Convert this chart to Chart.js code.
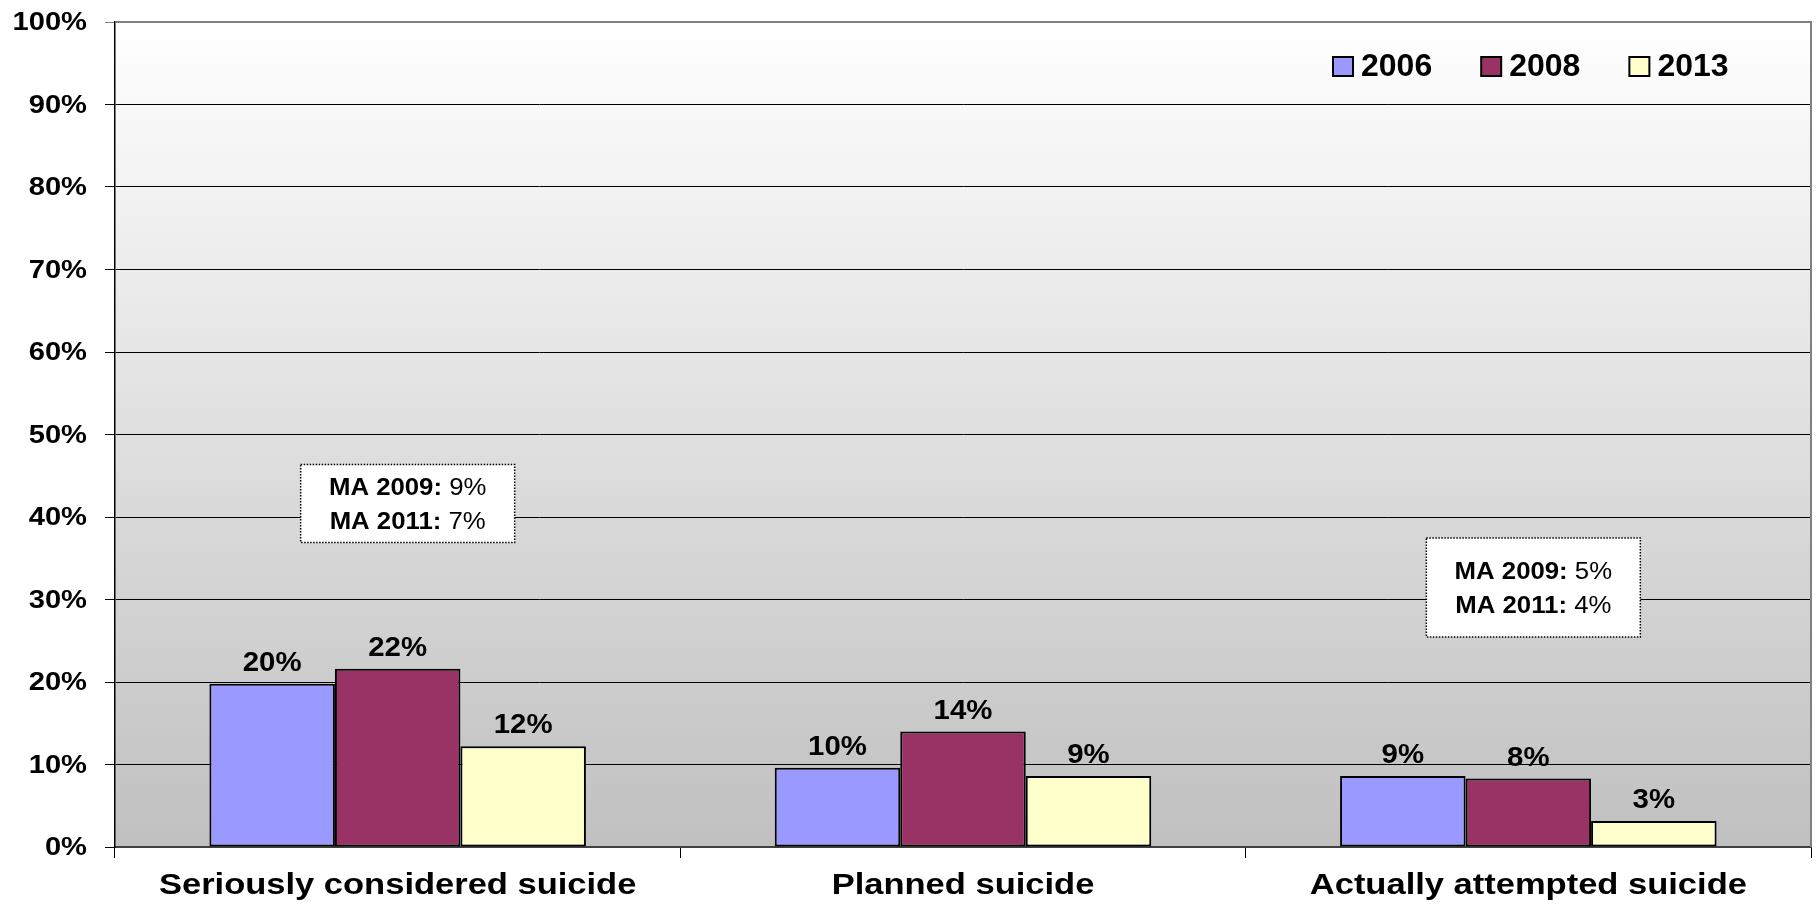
<!DOCTYPE html>
<html><head><meta charset="utf-8">
<script src="https://cdn.jsdelivr.net/npm/chart.js@4"></script>
<style>html,body{margin:0;padding:0;background:#fff}canvas{display:block}</style>
</head><body>
<canvas id="c" width="1816" height="908"></canvas>
<script>
const categories = ['Seriously considered suicide', 'Planned suicide', 'Actually attempted suicide'];
const seriesNames = ['2006', '2008', '2013'];
const values2006 = [19.8, 9.6, 8.6];
const values2008 = [21.6, 14.0, 8.3];
const values2013 = [12.2, 8.6, 3.15];
const seriesColors = ['#9999FF', '#993366', '#FFFFCC'];
const yTicks = [0, 10, 20, 30, 40, 50, 60, 70, 80, 90, 100];
const notes = [
  { cat: 0, dx: 10, top: 46.35, w: 214, h: 78, lines: [['MA 2009:', ' 9%'], ['MA 2011:', ' 7%']] },
  { cat: 2, dx: 5, top: 37.45, w: 214, h: 99, lines: [['MA 2009:', ' 5%'], ['MA 2011:', ' 4%']] }
];

const FONT = '"Liberation Sans", Arial, sans-serif';

function sText(ctx, s, x, y, size, weight, sx, align, baseline) {
  ctx.save();
  ctx.font = weight + ' ' + size + 'px ' + FONT;
  ctx.fillStyle = '#000';
  ctx.textAlign = align || 'left';
  ctx.textBaseline = baseline || 'alphabetic';
  ctx.translate(x, y);
  ctx.scale(sx, 1);
  ctx.fillText(s, 0, 0);
  ctx.restore();
}
function sWidth(ctx, s, size, weight, sx) {
  ctx.save();
  ctx.font = weight + ' ' + size + 'px ' + FONT;
  const w = ctx.measureText(s).width * sx;
  ctx.restore();
  return w;
}

const decor = {
  id: 'decor',
  beforeDraw(chart) {
    const { ctx, chartArea: a } = chart;
    const g = ctx.createLinearGradient(0, a.top, 0, a.bottom);
    g.addColorStop(0, '#ffffff');
    g.addColorStop(1, '#c0c0c0');
    ctx.save();
    ctx.fillStyle = g;
    ctx.fillRect(a.left, a.top, a.right - a.left, a.bottom - a.top);
    ctx.restore();
  },
  afterDraw(chart) {
    const { ctx, chartArea: a } = chart;
    const xs = chart.scales.x, ys = chart.scales.y;
    ctx.save();
    ctx.strokeStyle = '#808080';
    ctx.lineWidth = 2;
    ctx.beginPath();
    ctx.moveTo(a.left, a.top); ctx.lineTo(a.right, a.top); ctx.lineTo(a.right, a.bottom);
    ctx.stroke();
    ctx.restore();
    yTicks.forEach(v => {
      sText(ctx, v + '%', a.left - 28, ys.getPixelForValue(v) + 1, 26, 'bold', 1.12, 'right', 'middle');
    });
    categories.forEach((c, i) => {
      sText(ctx, c, xs.getPixelForValue(i), a.bottom + 47, 30, 'bold', 1.15, 'center', 'alphabetic');
    });
    chart.data.datasets.forEach((ds, di) => {
      const meta = chart.getDatasetMeta(di);
      meta.data.forEach((bar, i) => {
        sText(ctx, Math.round(ds.data[i]) + '%', bar.x, bar.y - 13, 28, 'bold', 1.05, 'center', 'alphabetic');
      });
    });
    let lx = a.right - 478;
    const ly = a.top + 35;
    chart.data.datasets.forEach(ds => {
      ctx.save();
      ctx.fillStyle = ds.backgroundColor;
      ctx.fillRect(lx, ly, 20, 19);
      ctx.strokeStyle = '#000';
      ctx.lineWidth = 2;
      ctx.strokeRect(lx, ly, 20, 19);
      ctx.restore();
      sText(ctx, ds.label, lx + 28, ly + 10, 32, 'bold', 1.0, 'left', 'middle');
      lx += 28 + sWidth(ctx, ds.label, 32, 'bold', 1.0) + 49;
    });
    notes.forEach(n => {
      const cx = xs.getPixelForValue(n.cat) + n.dx;
      const top = ys.getPixelForValue(n.top);
      const left = cx - n.w / 2;
      ctx.save();
      ctx.fillStyle = '#fff';
      ctx.fillRect(left, top, n.w, n.h);
      ctx.strokeStyle = '#000';
      ctx.lineWidth = 1.5;
      ctx.setLineDash([1.5, 1.5]);
      ctx.strokeRect(left, top, n.w, n.h);
      ctx.restore();
      const mid = top + n.h / 2 + 2.5;
      n.lines.forEach((ln, k) => {
        const y = mid + (k - 0.5) * 34;
        const wb = sWidth(ctx, ln[0], 23, 'bold', 1.12);
        const wr = sWidth(ctx, ln[1], 23, 'normal', 1.12);
        const x0 = cx - (wb + wr) / 2;
        sText(ctx, ln[0], x0, y, 23, 'bold', 1.12, 'left', 'middle');
        sText(ctx, ln[1], x0 + wb, y, 23, 'normal', 1.12, 'left', 'middle');
      });
    });
  }
};

const seriesValues = [values2006, values2008, values2013];

new Chart(document.getElementById('c'), {
  type: 'bar',
  data: {
    labels: categories,
    datasets: seriesNames.map((n, i) => ({
      label: n,
      data: seriesValues[i],
      backgroundColor: seriesColors[i],
      borderColor: '#000',
      borderWidth: 2,
      borderSkipped: false,
      categoryPercentage: 0.666,
      barPercentage: 1.0
    }))
  },
  options: {
    responsive: false,
    animation: false,
    layout: { padding: { left: 0, top: 22, right: 5, bottom: 0 } },
    plugins: { legend: { display: false }, tooltip: { enabled: false } },
    scales: {
      x: {
        offset: true,
        grid: { offset: true, drawOnChartArea: false, drawTicks: true, tickLength: 11, color: '#000', lineWidth: 1 },
        border: { display: true, color: '#404040', width: 2 },
        ticks: { display: false },
        afterFit(s) { s.height = 61; }
      },
      y: {
        min: 0, max: 100,
        afterBuildTicks(s) { s.ticks = yTicks.map(v => ({ value: v })); },
        grid: {
          color: c => (c.tick && c.tick.value === 100 ? '#808080' : '#000'),
          lineWidth: 1, drawTicks: true, tickLength: 10
        },
        border: { display: true, color: '#000', width: 1.5 },
        ticks: { display: false },
        afterFit(s) { s.width = 115; }
      }
    }
  },
  plugins: [decor]
});
</script>
</body></html>
